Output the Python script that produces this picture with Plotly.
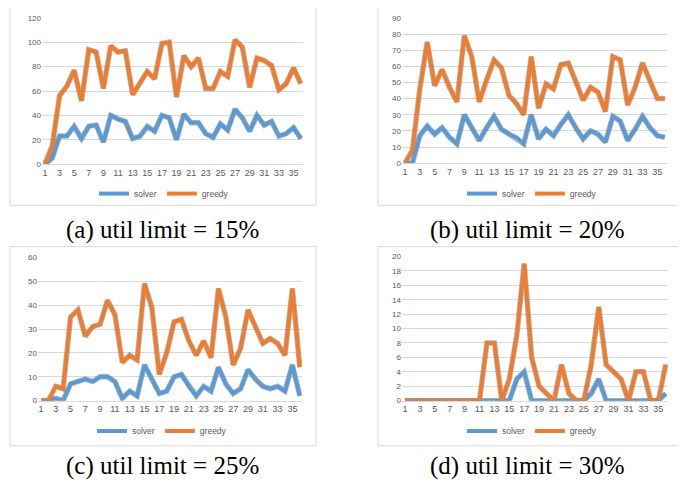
import plotly.graph_objects as go

x_vals = list(range(1, 37))
x_ticks = list(range(1, 37, 2))

solver_a = [0, 5, 23, 23, 31, 21, 31, 32, 18, 40, 37, 35, 21, 23, 31, 27, 40, 38,
            20, 41, 34, 34, 25, 22, 33, 28, 45, 38, 27, 40, 32, 35, 23, 25, 30, 21]
greedy_a = [0, 15, 56, 64, 77, 52, 94, 92, 62, 97, 92, 93, 57, 66, 76, 70, 99, 100,
            55, 89, 80, 87, 62, 62, 76, 72, 102, 96, 63, 87, 85, 81, 61, 66, 79, 66]

solver_b = [0, 0, 17, 23, 18, 22, 16, 12, 30, 22, 14, 22, 29, 21, 18, 16, 12, 30,
            15, 21, 17, 24, 30, 22, 15, 20, 18, 13, 29, 26, 14, 21, 29, 22, 17, 16]
greedy_b = [0, 8, 46, 75, 48, 58, 47, 38, 79, 66, 38, 52, 64, 59, 42, 37, 30, 66,
            34, 49, 46, 61, 62, 51, 39, 47, 44, 32, 66, 64, 36, 47, 62, 51, 40, 40]

solver_c = [0, 0, 1, 0, 7, 8, 9, 8, 10, 10, 8, 1, 4, 2, 15, 9, 3, 4,
            10, 11, 6, 2, 6, 4, 14, 7, 3, 5, 13, 9, 6, 5, 6, 4, 15, 2]
greedy_c = [0, 0, 6, 5, 35, 38, 27, 31, 32, 42, 36, 16, 19, 17, 49, 39, 11, 20,
            33, 34, 25, 19, 25, 18, 47, 35, 15, 22, 38, 31, 24, 26, 24, 19, 47, 14]

solver_d = [0, 0, 0, 0, 0, 0, 0, 0, 0, 0, 0, 0, 0, 0, 0, 3, 4, 0,
            0, 0, 0, 0, 0, 0, 0, 1, 3, 0, 0, 0, 0, 0, 0, 0, 0, 1]
greedy_d = [0, 0, 0, 0, 0, 0, 0, 0, 0, 0, 0, 8, 8, 0, 3, 9, 19, 6,
            2, 1, 0, 5, 1, 0, 0, 5, 13, 5, 4, 3, 0, 4, 4, 0, 0, 5]

captions = ["(a) util limit = 15%", "(b) util limit = 20%",
            "(c) util limit = 25%", "(d) util limit = 30%"]
y_maxes = [120, 90, 60, 20]
y_dticks = [20, 10, 10, 2]
series = [(solver_a, greedy_a), (solver_b, greedy_b),
          (solver_c, greedy_c), (solver_d, greedy_d)]

W, H = 686, 487
OFF = 8  # page body margin compensation
BLUE = "#5B9BD5"
ORANGE = "#ED7D31"
SHADOW = "rgba(60,60,60,0.35)"
TXT = "#595959"
GRID = "#D9D9D9"

# target pixel layout in the window: plot area (x0, x1, ytop, ybottom)
areas = [(42, 303, 14, 163), (402, 667, 14, 162),
         (38, 302, 258, 404), (402, 668, 257, 404)]
boxes = [(10, 316, 3, 205), (378, 700, -5, 205),
         (10, 316, 247, 450), (378, 700, 247, 450)]
legend_pos = [(164, 193), (532, 193), (162, 435), (532, 435)]
caption_pos = [(162, 230), (527, 230), (162, 471), (527, 471)]


def px(x):
    return (x - OFF) / W


def py(y):
    return 1 - (y - OFF) / H


fig = go.Figure()
layout = dict(width=W, height=H, autosize=False,
              margin=dict(l=0, r=0, t=0, b=0),
              paper_bgcolor="white", plot_bgcolor="white",
              font=dict(family="Liberation Sans, Arial, sans-serif", color=TXT, size=9),
              shapes=[], annotations=[])

xr = [0.6, 36.3]
for i in range(4):
    x0, x1, yt, yb = areas[i]
    n = "" if i == 0 else str(i + 1)
    layout["xaxis" + n] = dict(domain=[px(x0), px(x1)], range=xr, anchor="y" + n,
                               tickmode="array", tickvals=x_ticks,
                               showgrid=False, showline=True, linecolor=GRID,
                               linewidth=1, zeroline=False, ticks="",
                               tickfont=dict(size=9, color=TXT))
    layout["yaxis" + n] = dict(domain=[py(yb), py(yt)], range=[0, y_maxes[i]],
                               anchor="x" + n, dtick=y_dticks[i], showgrid=True,
                               gridcolor=GRID, gridwidth=1, zeroline=False,
                               showline=False, ticks="",
                               tickfont=dict(size=8, color=TXT))

    solver, greedy = series[i]
    leg = "legend" if i == 0 else "legend" + str(i + 1)
    for vals in (solver, greedy):
        fig.add_trace(go.Scatter(x=x_vals, y=vals, mode="lines",
                                 line=dict(color=SHADOW, width=5.5),
                                 xaxis="x" + n, yaxis="y" + n,
                                 showlegend=False, hoverinfo="skip", cliponaxis=False))
    fig.add_trace(go.Scatter(x=x_vals, y=solver, mode="lines", name="solver",
                             line=dict(color=BLUE, width=4), cliponaxis=False,
                             xaxis="x" + n, yaxis="y" + n, legend=leg))
    fig.add_trace(go.Scatter(x=x_vals, y=greedy, mode="lines", name="greedy",
                             line=dict(color=ORANGE, width=4), cliponaxis=False,
                             xaxis="x" + n, yaxis="y" + n, legend=leg))

    lx, ly = legend_pos[i]
    layout[leg] = dict(orientation="h", x=px(lx), y=py(ly), xanchor="center",
                       yanchor="middle", bgcolor="rgba(0,0,0,0)",
                       font=dict(size=8.5, color=TXT), itemwidth=30,
                       tracegroupgap=0)

    bx0, bx1, by0, by1 = boxes[i]
    layout["shapes"].append(dict(type="rect", xref="paper", yref="paper",
                                 x0=px(bx0), x1=px(bx1), y0=py(by1), y1=py(by0),
                                 line=dict(color="#D9D9D9", width=1),
                                 fillcolor="rgba(0,0,0,0)", layer="below"))
    cx, cy = caption_pos[i]
    layout["annotations"].append(dict(text=captions[i], xref="paper", yref="paper",
                                      x=px(cx), y=py(cy), xanchor="center",
                                      yanchor="middle", showarrow=False,
                                      font=dict(family="Liberation Serif, DejaVu Serif, serif",
                                                size=25, color="black")))

fig.update_layout(**layout)
fig.write_html("out.html")
